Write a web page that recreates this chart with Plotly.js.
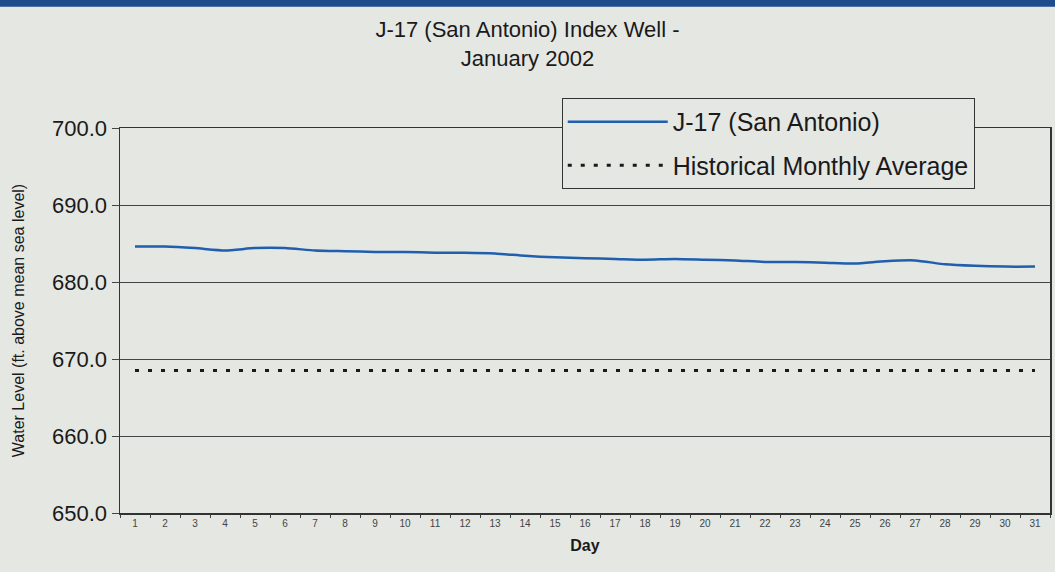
<!DOCTYPE html>
<html>
<head>
<meta charset="utf-8">
<script src="https://cdn.plot.ly/plotly-3.0.1.min.js"></script>
<style>
  html, body { margin: 0; padding: 0; background: #e5e7e3; }
  #chart { width: 1055px; height: 572px; }
</style>
</head>
<body>
<div id="chart"></div>
<script>
const days = ["1","2","3","4","5","6","7","8","9","10","11","12","13","14","15","16","17","18","19","20","21","22","23","24","25","26","27","28","29","30","31"];
const j17Levels = [684.6,684.6,684.4,684.1,684.4,684.4,684.1,684.0,683.9,683.9,683.8,683.8,683.7,683.4,683.2,683.1,683.0,682.9,683.0,682.9,682.8,682.6,682.6,682.5,682.4,682.7,682.8,682.3,682.1,682.0,682.0];
const historicalAverage = [668.5,668.5,668.5,668.5,668.5,668.5,668.5,668.5,668.5,668.5,668.5,668.5,668.5,668.5,668.5,668.5,668.5,668.5,668.5,668.5,668.5,668.5,668.5,668.5,668.5,668.5,668.5,668.5,668.5,668.5,668.5];
const yTickVals = [650, 660, 670, 680, 690, 700];
const yTickText = ["650.0", "660.0", "670.0", "680.0", "690.0", "700.0"];

const font = "Liberation Sans, Arial, sans-serif";

const traces = [
  {
    x: days, y: j17Levels, type: "scatter", mode: "lines",
    name: "J-17 (San Antonio)", legendgroup: "a",
    line: { color: "#1f5fae", width: 2.5, shape: "spline", smoothing: 0.6 }
  },
  {
    x: days, y: historicalAverage, type: "scatter", mode: "lines",
    name: "Historical Monthly Average", legendgroup: "b",
    line: { color: "#1a1a1a", width: 3, dash: "4px,9px" }
  }
];

const layout = {
  width: 1055, height: 572,
  paper_bgcolor: "#e5e7e3",
  plot_bgcolor: "#e5e7e3",
  margin: { l: 120, r: 5, t: 128, b: 59 },
  showlegend: true,
  title: {
    text: "J-17 (San Antonio) Index Well -<br>January 2002",
    font: { family: font, size: 22, color: "#1a1a1a" },
    x: 0.5, xanchor: "center", y: 0.935, yanchor: "top"
  },
  xaxis: {
    type: "category",
    tickson: "boundaries",
    ticks: "outside", ticklen: 3, tickcolor: "#444",
    tickfont: { family: font, size: 10, color: "#444" },
    showgrid: false,
    showline: true, linecolor: "#333", linewidth: 1.5, mirror: true,
    range: [-0.5, 30.5],
    title: { text: "<b>Day</b>", font: { family: font, size: 16, color: "#1a1a1a" }, standoff: 12 }
  },
  yaxis: {
    range: [650, 700],
    tickvals: yTickVals, ticktext: yTickText,
    ticks: "outside", ticklen: 7, tickcolor: "#444",
    tickfont: { family: font, size: 22, color: "#1a1a1a" },
    showgrid: true, gridcolor: "#444", gridwidth: 1,
    showline: true, linecolor: "#333", linewidth: 1.5, mirror: true,
    zeroline: false,
    title: { text: "Water Level (ft. above mean sea level)", font: { family: font, size: 16, color: "#1a1a1a" }, standoff: 23 }
  },
  legend: {
    x: 0.475, y: 1.078, xanchor: "left", yanchor: "top",
    bgcolor: "#e5e7e3", bordercolor: "#333", borderwidth: 1,
    font: { family: font, size: 25, color: "#1a1a1a" },
    itemwidth: 100,
    traceorder: "grouped",
    tracegroupgap: 8
  },
  shapes: [
    { type: "rect", xref: "paper", yref: "paper", x0: -0.2, x1: 1.1, y0: 1.315, y1: 1.35,
      fillcolor: "#1e4b8c", line: { width: 0 } }
  ]
};

Plotly.newPlot("chart", traces, layout, { staticPlot: true });
</script>
</body>
</html>
